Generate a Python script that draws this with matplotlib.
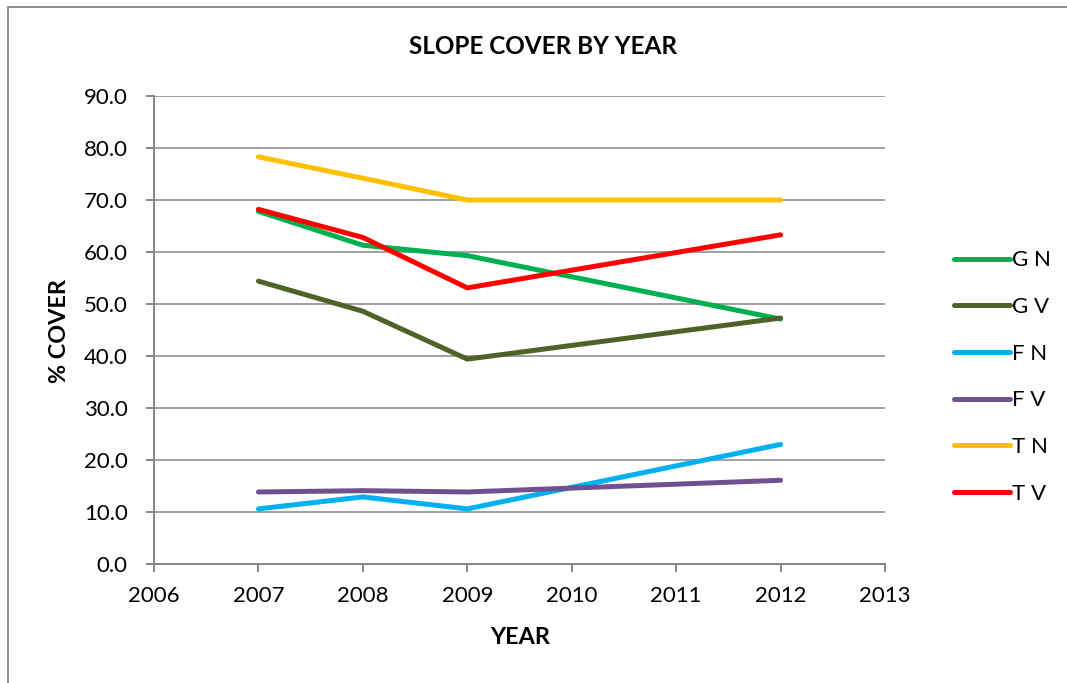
import matplotlib
matplotlib.use("Agg")
import matplotlib.pyplot as plt
from matplotlib.patches import Rectangle

plt.rcParams['font.family'] = ['Lato', 'DejaVu Sans']

# data
years = [2007, 2008, 2009, 2012]
g_n = [67.8, 61.3, 59.3, 47.1]
g_v = [54.4, 48.6, 39.4, 47.3]
f_n = [10.6, 12.9, 10.6, 23.0]
f_v = [13.85, 14.1, 13.85, 16.1]
t_n = [78.3, 74.2, 70.0, 70.0]
t_v = [68.2, 62.8, 53.1, 63.3]

series = [
    ("G N", g_n, "#00B050"),
    ("G V", g_v, "#4F6228"),
    ("F N", f_n, "#00B0F0"),
    ("F V", f_v, "#6F5192"),
    ("T N", t_n, "#FFC000"),
    ("T V", t_v, "#FF0000"),
]

W, H = 1067, 683
fig = plt.figure(figsize=(W / 100, H / 100), dpi=100)
ax = fig.add_axes([154 / W, 1 - 564 / H, (885 - 154) / W, (564 - 96) / H])

# outer chart border
fig.patches.append(Rectangle((8 / W, -0.05), 1.2, 1 - 7 / H + 0.05,
                             transform=fig.transFigure, fill=False,
                             edgecolor="#868686", lw=1.3))

for name, vals, col in series:
    ax.plot(years, vals, color=col, lw=3.6, label=name,
            solid_capstyle="round", solid_joinstyle="round")

ax.set_xlim(2006, 2013)
ax.set_ylim(0, 90)
ax.set_xticks(range(2006, 2014))
ax.set_yticks([i * 10 for i in range(10)])
ax.set_yticklabels([f"{i * 10:.1f}" for i in range(10)])
ax.yaxis.grid(True, color="#A0A0A0", lw=1.4)
ax.set_axisbelow(True)
for s in ["top", "right"]:
    ax.spines[s].set_visible(False)
for s in ["left", "bottom"]:
    ax.spines[s].set_color("#868686")
    ax.spines[s].set_linewidth(1.4)
ax.tick_params(axis="both", colors="#868686", length=6, width=1.4,
               labelcolor="black", labelsize=16)
ax.tick_params(axis="y", pad=13)
ax.tick_params(axis="x", pad=10)

fig.text(543 / W, 1 - 46 / H, "SLOPE COVER BY YEAR", ha="center", va="center",
         fontsize=17.5, fontweight="bold")
fig.text(60 / W, 1 - 331 / H, "% COVER", ha="center", va="center",
         rotation=90, fontsize=16.8, fontweight="bold")
fig.text(520 / W, 1 - 638 / H, "YEAR", ha="center", va="center",
         fontsize=16.8, fontweight="bold")

leg = ax.legend(loc="center left", bbox_to_anchor=(934 / W, 1 - 377 / H),
                bbox_transform=fig.transFigure, frameon=False, fontsize=16,
                handlelength=2.5, handletextpad=0.1, labelspacing=1.2)

fig.savefig("out.png", dpi=100)
